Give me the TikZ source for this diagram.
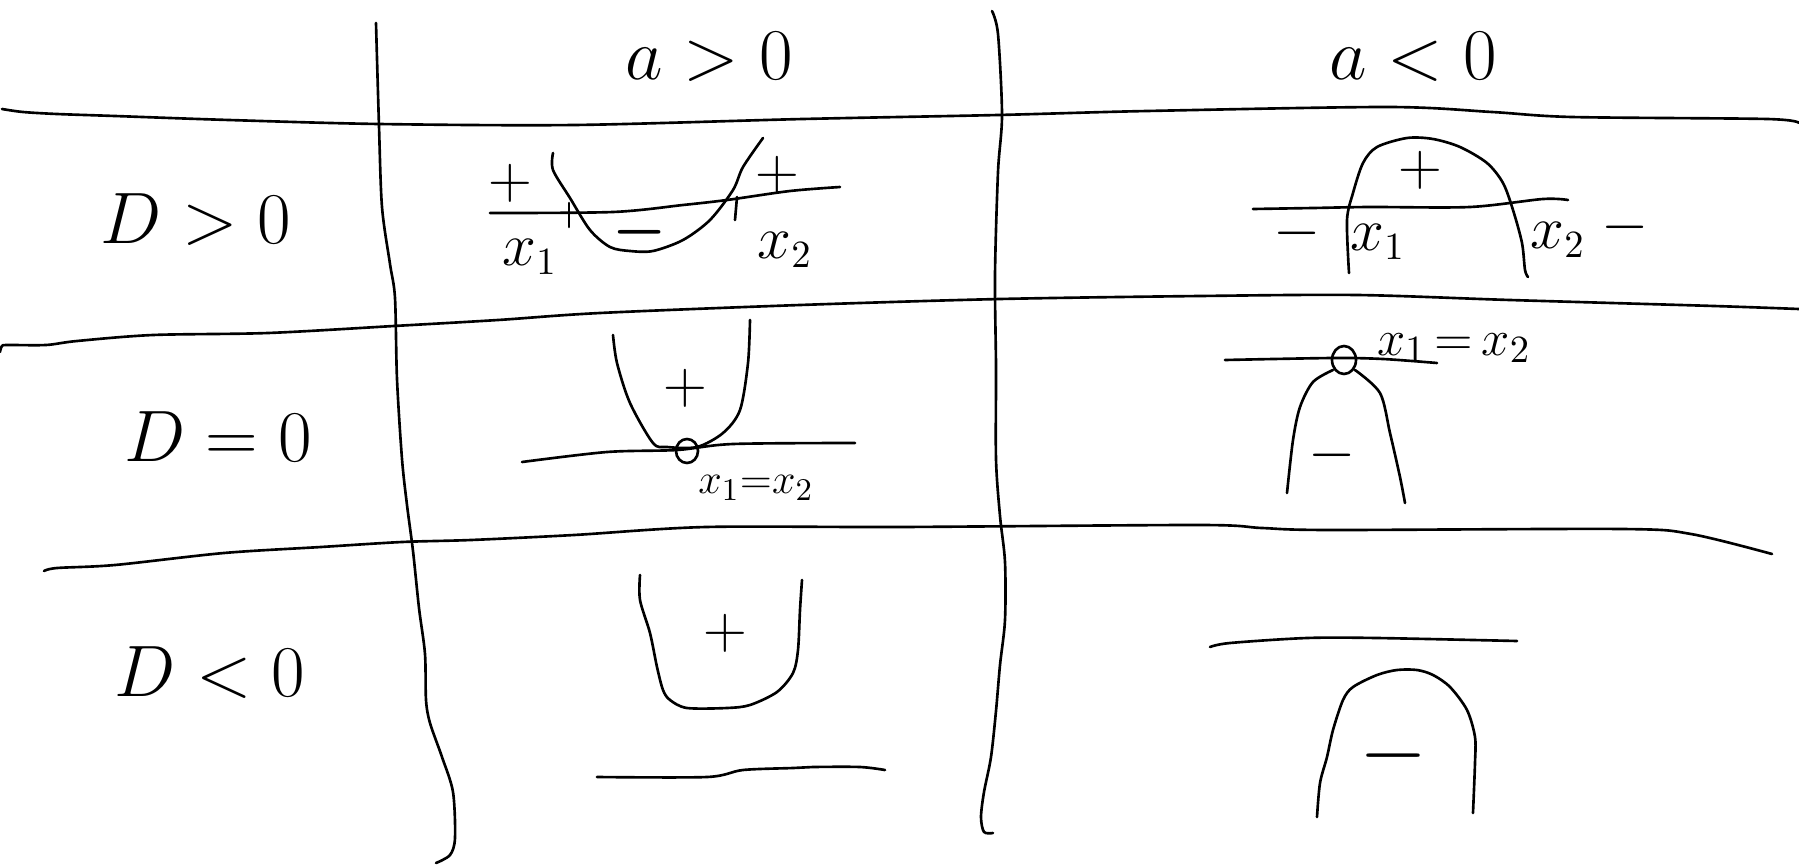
\documentclass[tikz,border=0pt]{standalone}
\usepackage{amssymb, amsmath}
\usepackage{tikz}
\tikzset{
  pen/.style={line width=0.75pt, line cap=round, line join=round},
  head/.style={inner sep=0pt, font=\fontsize{22}{26}\selectfont},
  sign/.style={inner sep=0pt, font=\fontsize{18}{22}\selectfont},
  lab/.style={inner sep=0pt, font=\fontsize{16}{19}\selectfont}
}

\begin{document}
\begin{tikzpicture}[x=0.1mm, y=-0.1mm]
  \useasboundingbox (0, 0) rectangle (1799, 865);

  % table
  \draw[pen] plot[smooth, tension=0.5] coordinates {(2, 109) (23, 112) (57, 114) (115, 116) (229, 120) (379, 124) (574, 125) (803, 119) (998, 115) (1147, 111) (1388, 107) (1492, 112) (1572, 117) (1767, 119) (1799, 123)};
  \draw[pen] plot[smooth, tension=0.5] coordinates {(0, 352) (2, 346) (8, 345) (46, 345) (77, 341) (153, 335) (268, 333) (394, 326) (498, 320) (600, 313) (800, 305) (1000, 299) (1200, 296) (1357, 295) (1510, 300) (1714, 306) (1799, 309)};
  \draw[pen] plot[smooth, tension=0.5] coordinates {(44, 571) (57, 568) (115, 565) (224, 553) (321, 547) (402, 542) (471, 540) (574, 535) (706, 527) (900, 527) (1200, 525) (1262, 528) (1330, 530) (1622, 529) (1691, 534) (1772, 554)};

  \draw[pen] plot[smooth, tension=0.5] coordinates {(376, 23) (379, 126) (382, 207) (390, 264) (395, 298) (397, 379) (402, 459) (407, 505) (413, 551) (419, 608) (425, 654) (426, 700) (430, 723) (442, 757) (453, 792) (455, 838) (450, 855) (436, 863)};
  \draw[pen] plot[smooth, tension=0.5] coordinates {(992, 11) (998, 34) (1002, 115) (998, 172) (995, 275) (996, 367) (996, 459) (1000, 516) (1005, 562) (1005, 620) (1000, 665) (996, 711) (991, 757) (984, 792) (981, 817) (984, 832) (993, 833)};

  \node[head] (apos) at (709, 57) {$a > 0$};
  \node[head] (aneg) at (1413, 57) {$a < 0$};
  \node[head] (dpos) at (196, 220) {$D > 0$};
  \node[head] (dzero) at (218, 437) {$D = 0$};
  \node[head] (dneg) at (210, 673) {$D < 0$};

  % a>0, D>0
  \draw[pen] plot[smooth, tension=0.5] coordinates {(490, 213) (613, 212) (683, 205) (727, 200) (790, 191) (840, 187)};
  \draw[pen] plot[smooth, tension=0.5] coordinates {(553, 153) (553, 170) (570, 198) (590, 230) (610, 247) (630, 251) (653, 251) (683, 240) (710, 220) (733, 190) (743, 167) (763, 138)};
  \draw[pen] (569, 203) -- (569, 227);
  \draw[pen] (737, 197) -- (735, 220);
  \node[sign] (p1a) at (510, 183) {$+$};
  \node[sign] (p1b) at (777, 175) {$+$};
  \node[sign] (m1) at (640, 232) {$\boldsymbol{-}$};
  \node[lab] (x1a) at (530, 257) {$x_1$};
  \node[lab] (x2a) at (785, 250) {$x_2$};

  % a<0, D>0
  \draw[pen] plot[smooth, tension=0.5] coordinates {(1253, 209) (1313, 208) (1370, 207) (1470, 207) (1543, 199) (1568, 200)};
  \draw[pen] plot[smooth, tension=0.5] coordinates {(1349, 273) (1347, 220) (1353, 193) (1363, 163) (1377, 147) (1407, 138) (1433, 139) (1460, 147) (1487, 163) (1503, 183) (1513, 210) (1522, 243) (1525, 270) (1528, 277)};
  \node[sign] (p2) at (1420, 170) {$+$};
  \node[sign] (m2a) at (1297, 233) {$-$};
  \node[sign] (m2b) at (1625, 227) {$-$};
  \node[lab] (x1b) at (1378, 242) {$x_1$};
  \node[lab] (x2b) at (1558, 240) {$x_2$};

  % a>0, D=0
  \draw[pen] plot[smooth, tension=0.5] coordinates {(522, 462) (607, 452) (677, 450) (733, 444) (855, 443)};
  \draw[pen] plot[smooth, tension=0.5] coordinates {(613, 335) (617, 363) (630, 403) (653, 443) (667, 447) (697, 447) (723, 433) (740, 410) (748, 363) (750, 320)};
  \draw[pen] (687, 451) ellipse [x radius=11, y radius=12];
  \node[sign] (p3) at (685, 388) {$+$};
  \node[lab, font=\fontsize{13}{16}\selectfont] (x12a) at (756, 488) {$x_1{=}x_2$};

  % a<0, D=0
  \draw[pen] plot[smooth, tension=0.5] coordinates {(1225, 360) (1333, 358) (1383, 359) (1437, 363)};
  \draw[pen] plot[smooth, tension=0.5] coordinates {(1333, 370) (1313, 382) (1300, 407) (1293, 440) (1287, 493)};
  \draw[pen] plot[smooth, tension=0.5] coordinates {(1355, 370) (1380, 393) (1390, 433) (1400, 477) (1405, 503)};
  \draw[pen] (1344, 360) ellipse [x radius=12, y radius=14];
  \node[lab, font=\fontsize{15}{18}\selectfont] (x12b) at (1454, 348) {$x_1{\,=\,}x_2$};
  \node[sign] (m4) at (1332, 455) {$-$};

  % a>0, D<0
  \draw[pen] plot[smooth, tension=0.5] coordinates {(640, 575) (640, 600) (650, 633) (657, 667) (663, 690) (670, 700) (687, 708) (727, 708) (750, 705) (777, 692) (793, 673) (798, 650) (800, 610) (802, 580)};
  \draw[pen] plot[smooth, tension=0.5] coordinates {(597, 777) (707, 777) (743, 770) (793, 768) (813, 767) (860, 767) (885, 770)};
  \node[sign] (p5) at (725, 633) {$+$};

  % a<0, D<0
  \draw[pen] plot[smooth, tension=0.5] coordinates {(1210, 647) (1230, 643) (1307, 638) (1377, 638) (1517, 641)};
  \draw[pen] plot[smooth, tension=0.5] coordinates {(1317, 817) (1320, 783) (1327, 757) (1333, 730) (1343, 700) (1353, 687) (1377, 675) (1397, 670) (1417, 670) (1433, 675) (1450, 687) (1467, 710) (1475, 737) (1475, 763) (1473, 813)};
  \node[sign, font=\fontsize{34}{40}\selectfont] (m6) at (1393, 756) {$-$};
\end{tikzpicture}
\end{document}
